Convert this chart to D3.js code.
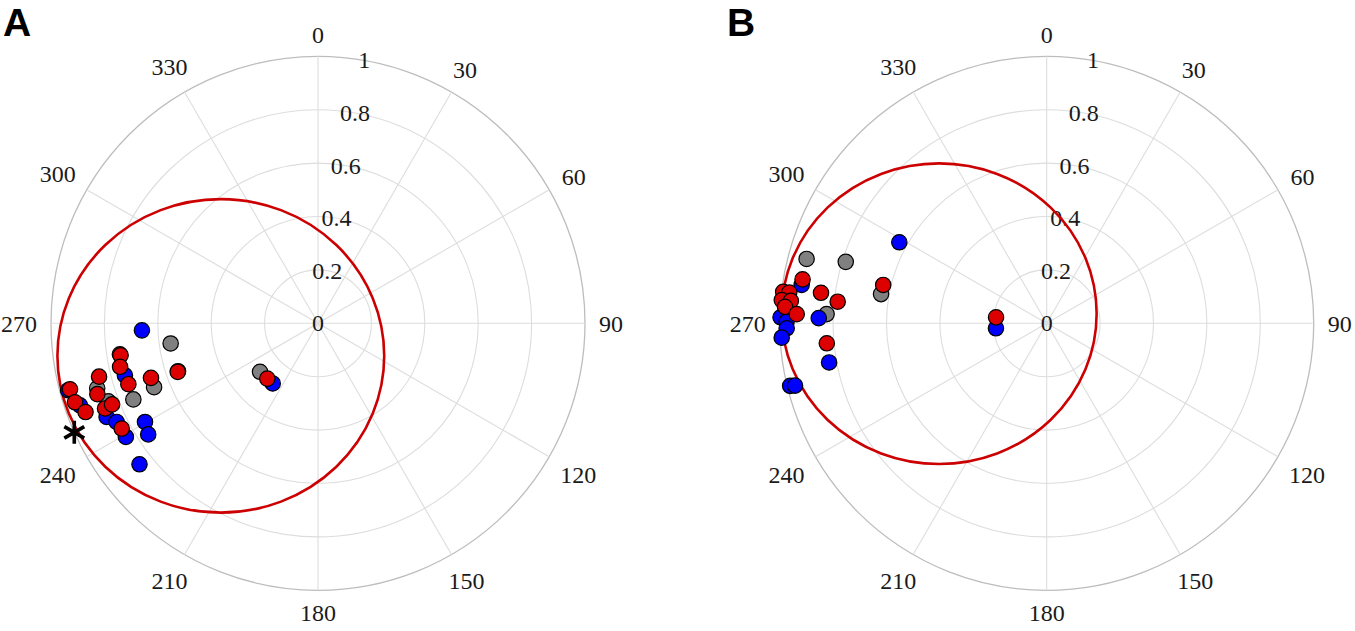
<!DOCTYPE html>
<html>
<head>
<meta charset="utf-8">
<script src="https://cdn.jsdelivr.net/npm/d3@7"></script>
<style>
  html, body { margin: 0; padding: 0; background: #fff; }
  svg { display: block; }
</style>
</head>
<body>
<svg id="chart" width="1355" height="631"></svg>
<script>
// ---------- data ----------
const panelLabels = ["A", "B"];
const angleTicks = [0, 30, 60, 90, 120, 150, 180, 210, 240, 270, 300, 330];
const radiusTicks = [0, 0.2, 0.4, 0.6, 0.8, 1];
const radiusTickLabels = ["0", "0.2", "0.4", "0.6", "0.8", "1"];

// Panel A: [angle (deg), radius]
const aGray = [[262.2,0.557],[261.1,0.751],[247.6,0.748],[248.7,0.659],[253.6,0.862],[249.6,0.838],[230.1,0.283],[251.1,0.554]];
const aBlue = [[267.7,0.660],[254.9,0.749],[246.1,0.866],[243.9,0.840],[239.4,0.836],[240.3,0.746],[236.8,0.760],[231.7,0.852],[217.0,0.282],[255.0,0.969],[251.0,0.943]];
const aRed  = [[260.8,0.749],[257.6,0.759],[252.2,0.746],[251.9,0.658],[250.9,0.556],[256.3,0.844],[252.2,0.868],[248.2,0.859],[248.5,0.829],[241.8,0.834],[255.1,0.961],[252.0,0.957],[249.1,0.932],[222.5,0.281]];
const aStar = [[245.9,1.0]];
// red reference ellipse: centre (x, y in radius units, y up) and radii
const aEllipse = {cx:-0.364, cy:-0.122, rx:0.612, ry:0.587};

// Panel B
const bGray = [[285.0,0.931],[287.0,0.787],[280.0,0.630],[272.4,0.825]];
const bBlue = [[298.8,0.630],[278.9,0.929],[271.3,0.854],[259.8,0.828],[256.3,0.989],[256.1,0.971],[271.3,0.997],[270.4,0.974],[268.9,0.974],[266.9,0.994],[264.4,0.191]];
const bRed  = [[280.2,0.929],[283.2,0.629],[277.7,0.853],[275.9,0.787],[264.8,0.827],[276.8,0.994],[276.8,0.971],[275.0,0.996],[275.0,0.962],[273.6,0.982],[272.1,0.937],[276.7,0.191]];
const bStar = [];
const bEllipse = {cx:-0.403, cy:0.036, rx:0.590, ry:0.563};

const colors = {gray:"#808080", blue:"#0000ff", red:"#dd0000", ellipse:"#cc0000"};

// ---------- drawing ----------
const svg = d3.select("#chart");
const R = 267;
const rScale = d3.scaleLinear().domain([0, 1]).range([0, R]);
const toRad = d => d * Math.PI / 180;
const serif = "'Liberation Serif', 'Times New Roman', serif";

const panels = [
  {label: panelLabels[0], cx: 318, cy: 323.3, lx: 3, gray: aGray, blue: aBlue, red: aRed, star: aStar, ell: aEllipse},
  {label: panelLabels[1], cx: 1046.7, cy: 323.3, lx: 727, gray: bGray, blue: bBlue, red: bRed, star: bStar, ell: bEllipse}
];

panels.forEach(p => {
  const g = svg.append("g").attr("transform", `translate(${p.cx},${p.cy})`);

  // grid circles
  g.selectAll("circle.grid").data(radiusTicks.filter(t => t > 0)).join("circle")
    .attr("class", "grid")
    .attr("r", d => rScale(d))
    .attr("fill", "none")
    .attr("stroke", d => d === 1 ? "#bdbdbd" : "#dddddd")
    .attr("stroke-width", d => d === 1 ? 1.3 : 1.1);

  // spokes
  g.selectAll("line.spoke").data(angleTicks).join("line")
    .attr("class", "spoke")
    .attr("x1", 0).attr("y1", 0)
    .attr("x2", d => d3.pointRadial(toRad(d), R)[0])
    .attr("y2", d => d3.pointRadial(toRad(d), R)[1])
    .attr("stroke", "#dddddd").attr("stroke-width", 1.1);

  // radius labels
  g.selectAll("text.rl").data(radiusTicks).join("text")
    .attr("class", "rl")
    .attr("x", d => d3.pointRadial(toRad(10), rScale(d))[0])
    .attr("y", d => d3.pointRadial(toRad(10), rScale(d))[1])
    .attr("text-anchor", "middle")
    .attr("dominant-baseline", "central")
    .attr("font-family", serif).attr("font-size", 24)
    .attr("fill", "#1a1a1a")
    .text((d, i) => radiusTickLabels[i]);

  // angle labels
  const al = g.selectAll("text.al").data(angleTicks).join("text")
    .attr("class", "al")
    .attr("text-anchor", "middle")
    .attr("dominant-baseline", "central")
    .attr("font-family", serif).attr("font-size", 24)
    .attr("fill", "#1a1a1a")
    .text(d => d);
  al.each(function(d) {
    const hw = this.getComputedTextLength() / 2;
    const hh = 8;
    const a = toRad(d);
    const rr = 281 + Math.abs(Math.sin(a)) * hw + Math.abs(Math.cos(a)) * hh;
    const pt = d3.pointRadial(a, rr);
    d3.select(this).attr("x", pt[0]).attr("y", pt[1] + 1);
  });

  // red ellipse
  g.append("ellipse")
    .attr("cx", rScale(p.ell.cx))
    .attr("cy", -rScale(p.ell.cy))
    .attr("rx", rScale(p.ell.rx))
    .attr("ry", rScale(p.ell.ry))
    .attr("fill", "none")
    .attr("stroke", colors.ellipse)
    .attr("stroke-width", 2.6);

  // points
  const drawPts = (data, col) => {
    g.append("g").selectAll("circle").data(data).join("circle")
      .attr("cx", d => d3.pointRadial(toRad(d[0]), rScale(d[1]))[0])
      .attr("cy", d => d3.pointRadial(toRad(d[0]), rScale(d[1]))[1])
      .attr("r", 7.7)
      .attr("fill", col)
      .attr("stroke", "#000")
      .attr("stroke-width", 1.2);
  };
  drawPts(p.gray, colors.gray);
  drawPts(p.blue, colors.blue);
  drawPts(p.red, colors.red);

  // asterisk
  p.star.forEach(s => {
    const [x, y] = d3.pointRadial(toRad(s[0]), rScale(s[1]));
    const L = 11.5;
    let path = "";
    [90, 30, -30].forEach(ang => {
      const dx = L * Math.cos(toRad(ang)), dy = L * Math.sin(toRad(ang));
      path += `M${x - dx},${y - dy}L${x + dx},${y + dy}`;
    });
    g.append("path").attr("d", path).attr("stroke", "#000").attr("stroke-width", 3.6).attr("fill", "none");
  });

  // panel label
  svg.append("text")
    .attr("x", p.lx).attr("y", 36)
    .attr("font-family", "'Liberation Sans', Arial, sans-serif")
    .attr("font-weight", "bold").attr("font-size", 39)
    .attr("fill", "#000")
    .text(p.label);
});
</script>
</body>
</html>
